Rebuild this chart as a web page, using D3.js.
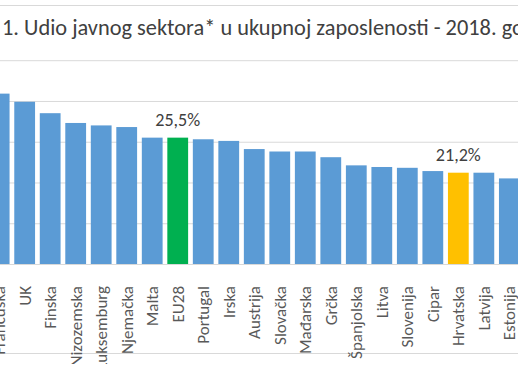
<!DOCTYPE html>
<html>
<head>
<meta charset="utf-8">
<script src="https://cdn.jsdelivr.net/npm/d3@7"></script>
<style>
  html, body { margin: 0; padding: 0; background: #fff; }
  svg { display: block; }
  text { font-family: Carlito, Calibri, Lato, "Open Sans", sans-serif; }
</style>
</head>
<body>
<svg id="chart" width="518" height="369"></svg>
<script>
// ---- data ----
const titleText = "1. Udio javnog sektora* u ukupnoj zaposlenosti - 2018. go";
const countries = ["Francuska","UK","Finska","Nizozemska","Luksemburg","Njemačka","Malta","EU28","Portugal","Irska","Austrija","Slovačka","Mađarska","Grčka","Španjolska","Litva","Slovenija","Cipar","Hrvatska","Latvija","Estonija"];
const shares = [30.9,29.9,28.5,27.3,27.0,26.8,25.5,25.5,25.3,25.1,24.1,23.8,23.8,23.1,22.1,21.9,21.8,21.4,21.2,21.2,20.5];
const highlighted = {"EU28": "#00B050", "Hrvatska": "#FFC000"};
const valueLabels = {"EU28": "25,5%", "Hrvatska": "21,2%"};
const yTicks = [10, 15, 20, 25, 30, 35];

// ---- layout ----
const svg = d3.select("#chart");
svg.append("rect").attr("width", 518).attr("height", 369).attr("fill", "#fff");

const x = d3.scaleBand()
  .domain(countries)
  .range([-13.6, -13.6 + 25.51 * countries.length])
  .paddingInner(0.185)
  .paddingOuter(0.0925);

const y = d3.scaleLinear().domain([10, 35]).range([264, 60.2]);

// helper: fit a font size so that a sample string has a target width
function fitSize(sample, target, base) {
  const tmp = svg.append("text").attr("font-size", base).text(sample);
  const w = tmp.node().getComputedTextLength();
  tmp.remove();
  return base * target / w;
}

// frame lines
svg.append("line").attr("x1", 0).attr("x2", 518).attr("y1", 5.5).attr("y2", 5.5)
  .attr("stroke", "#d9d9d9").attr("stroke-width", 1);
svg.append("line").attr("x1", 0).attr("x2", 518).attr("y1", 353.5).attr("y2", 353.5)
  .attr("stroke", "#d9d9d9").attr("stroke-width", 1);

// gridlines
const yAxis = d3.axisLeft(y).tickValues(yTicks).tickSize(-600).tickFormat("");
const g = svg.append("g").attr("transform", "translate(-40,0)").call(yAxis);
g.select(".domain").remove();
g.selectAll(".tick line").attr("stroke", "#d9d9d9").attr("stroke-width", 1);

// bars
svg.append("g").selectAll("rect").data(countries).join("rect")
  .attr("x", d => x(d))
  .attr("width", x.bandwidth())
  .attr("y", (d, i) => y(shares[i]))
  .attr("height", (d, i) => y(10) - y(shares[i]))
  .attr("fill", d => highlighted[d] || "#5B9BD5");

// value labels
const valSize = fitSize("25,5%", 45, 18);
svg.append("g").selectAll("text").data(countries.filter(d => valueLabels[d])).join("text")
  .attr("x", d => x(d) + x.bandwidth() / 2)
  .attr("y", d => y(shares[countries.indexOf(d)]) - 12)
  .attr("text-anchor", "middle")
  .attr("font-size", valSize)
  .attr("fill", "#404040")
  .text(d => valueLabels[d]);

// category labels (rotated, clipped at bottom)
const catSize = fitSize("Hrvatska", 60, 16);
svg.append("clipPath").attr("id", "lblclip")
  .append("rect").attr("x", -50).attr("y", 0).attr("width", 620).attr("height", 364);
const xAxis = d3.axisBottom(x).tickSize(0).tickPadding(0);
const ax = svg.append("g").attr("clip-path", "url(#lblclip)")
  .append("g").attr("transform", `translate(0,${y(10)})`).call(xAxis);
ax.select(".domain").remove();
ax.selectAll(".tick text")
  .attr("font-size", catSize)
  .attr("fill", "#595959")
  .attr("text-anchor", "end")
  .attr("transform", "rotate(-90)")
  .attr("x", -22)
  .attr("y", 0)
  .attr("dy", "0.35em");

// title
const t = svg.append("text")
  .attr("x", 2).attr("y", 35)
  .attr("font-size", 20)
  .attr("fill", "#404040")
  .text(titleText);
const len = t.node().getComputedTextLength();
t.attr("font-size", 20 * 522 / len);
</script>
</body>
</html>
